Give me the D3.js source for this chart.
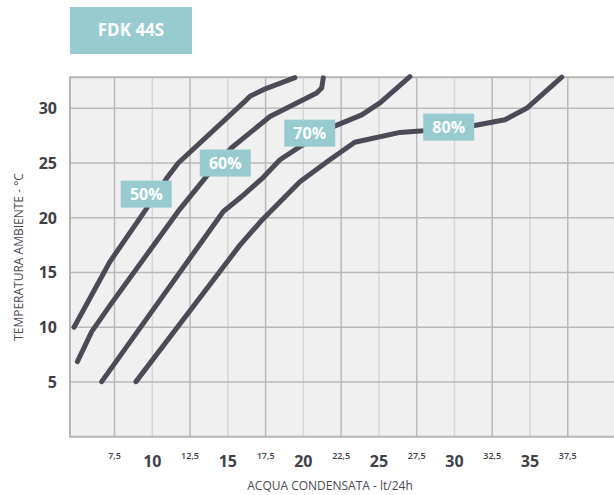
<!DOCTYPE html>
<html>
<head>
<meta charset="utf-8">
<script src="https://cdn.jsdelivr.net/npm/d3@7"></script>
<style>
  body { margin: 0; background: #fff; }
  text { font-family: "Open Sans", sans-serif; }
</style>
</head>
<body>
<div id="chart"></div>
<script>
// FDK 44S - water condensed vs ambient temperature, by relative humidity

const width = 614;
const height = 495;

// curves: x = lt/24h, y = °C
const curve50 = [[4.82,10.0],[7.2,16.0],[9.4,20.4],[10.95,23.6],[11.72,25.0],[16.25,30.8],[16.47,31.1],[17.35,31.7],[19.44,32.8]];
const curve60 = [[5.04,6.86],[5.99,9.6],[7.2,12.0],[11.72,20.6],[13.6,23.8],[15.25,26.4],[17.79,29.25],[20.88,31.4],[21.21,31.85],[21.32,32.8]];
const curve70 = [[6.65,5.03],[14.7,20.57],[15.8,21.8],[17.35,23.7],[18.45,25.3],[19.77,26.5],[22.1,28.4],[23.86,29.4],[25.07,30.5],[27.05,32.9]];
const curve80 = [[8.92,5.03],[15.8,17.5],[17.2,19.7],[19.77,23.3],[21.75,25.3],[23.4,26.9],[26.4,27.8],[27.94,27.95],[31.24,28.4],[33.34,28.95],[34.78,30.0],[37.1,32.85]];

const curves = [curve50, curve60, curve70, curve80];
const curveLabels = ["50%", "60%", "70%", "80%"];
const labelAt = [[9.6,22.16],[14.83,25.0],[20.42,27.73],[29.62,28.28]];

const yTicks = [5, 10, 15, 20, 25, 30];
const xMajor = [10, 15, 20, 25, 30, 35];
const xMinor = [7.5, 12.5, 17.5, 22.5, 27.5, 32.5, 37.5];
const xMinorLabels = ["7,5", "12,5", "17,5", "22,5", "27,5", "32,5", "37,5"];

const plot = {left: 70, right: 614, top: 77.3, bottom: 436.7};

const x = d3.scaleLinear().domain([10, 35]).range([152.3, 530]);
const y = d3.scaleLinear().domain([0, 30]).range([plot.bottom, 108.3]);

const svg = d3.select("#chart")
  .append("svg")
  .attr("width", width)
  .attr("height", height);

// plot background
svg.append("rect")
  .attr("x", plot.left)
  .attr("y", plot.top)
  .attr("width", plot.right - plot.left)
  .attr("height", plot.bottom - plot.top)
  .attr("fill", "#f0f0f0");

// light vertical grid (at the big labels)
svg.append("g").selectAll("line")
  .data(xMajor)
  .join("line")
    .attr("x1", d => x(d)).attr("x2", d => x(d))
    .attr("y1", plot.top).attr("y2", plot.bottom)
    .attr("stroke", "#d6d6d6")
    .attr("stroke-width", 1.5);

// darker vertical grid (at the x,5 labels)
svg.append("g").selectAll("line")
  .data(xMinor)
  .join("line")
    .attr("x1", d => x(d)).attr("x2", d => x(d))
    .attr("y1", plot.top).attr("y2", plot.bottom)
    .attr("stroke", "#b9b9b9")
    .attr("stroke-width", 1.5);

// horizontal grid
svg.append("g").selectAll("line")
  .data(yTicks)
  .join("line")
    .attr("x1", plot.left).attr("x2", plot.right)
    .attr("y1", d => y(d)).attr("y2", d => y(d))
    .attr("stroke", "#b9b9b9")
    .attr("stroke-width", 1.5);

// frame: top, left, bottom
svg.append("path")
  .attr("d", `M${plot.right},${plot.top}H${plot.left}V${plot.bottom}H${plot.right}`)
  .attr("fill", "none")
  .attr("stroke", "#b5b5b5")
  .attr("stroke-width", 2);

// y tick labels
svg.append("g").selectAll("text")
  .data(yTicks)
  .join("text")
    .attr("x", 57)
    .attr("y", d => y(d))
    .attr("dy", "0.36em")
    .attr("text-anchor", "end")
    .attr("font-size", "16px")
    .attr("font-weight", 700)
    .attr("fill", "#3f3f4a")
    .text(d => d);

// x tick labels, big
svg.append("g").selectAll("text")
  .data(xMajor)
  .join("text")
    .attr("x", d => x(d))
    .attr("y", 467)
    .attr("text-anchor", "middle")
    .attr("font-size", "16px")
    .attr("font-weight", 700)
    .attr("fill", "#3f3f4a")
    .text(d => d);

// x tick labels, small
svg.append("g").selectAll("text")
  .data(xMinor)
  .join("text")
    .attr("x", d => x(d))
    .attr("y", 459)
    .attr("text-anchor", "middle")
    .attr("font-size", "9px")
    .attr("font-weight", 600)
    .attr("fill", "#3f3f4a")
    .text((d, i) => xMinorLabels[i]);

// axis titles
svg.append("text")
  .attr("x", 330)
  .attr("y", 490)
  .attr("text-anchor", "middle")
  .attr("font-size", "12px")
  .attr("fill", "#4a4a52")
  .text("ACQUA CONDENSATA - lt/24h");

svg.append("text")
  .attr("transform", "translate(23,257) rotate(-90)")
  .attr("text-anchor", "middle")
  .attr("font-size", "12px")
  .attr("fill", "#4a4a52")
  .text("TEMPERATURA AMBIENTE - °C");

// curves
const line = d3.line()
  .x(d => x(d[0]))
  .y(d => y(d[1]));

svg.append("g").selectAll("path")
  .data(curves)
  .join("path")
    .attr("d", line)
    .attr("fill", "none")
    .attr("stroke", "#4b4b57")
    .attr("stroke-width", 5)
    .attr("stroke-linecap", "round")
    .attr("stroke-linejoin", "round");

// humidity labels
const boxW = 51, boxH = 27;
const tags = svg.append("g").selectAll("g")
  .data(labelAt)
  .join("g")
    .attr("transform", d => `translate(${x(d[0])},${y(d[1])})`);

tags.append("rect")
  .attr("x", -boxW / 2)
  .attr("y", -boxH / 2)
  .attr("width", boxW)
  .attr("height", boxH)
  .attr("fill", "#97cbd0");

tags.append("text")
  .attr("text-anchor", "middle")
  .attr("dy", "0.36em")
  .attr("font-size", "16px")
  .attr("font-weight", 700)
  .attr("fill", "#fff")
  .text((d, i) => curveLabels[i]);

// title box
svg.append("rect")
  .attr("x", 70)
  .attr("y", 7)
  .attr("width", 122)
  .attr("height", 47)
  .attr("fill", "#97cbd0");

svg.append("text")
  .attr("x", 131)
  .attr("y", 30)
  .attr("dy", "0.36em")
  .attr("text-anchor", "middle")
  .attr("font-size", "17px")
  .attr("font-weight", 700)
  .attr("fill", "#fff")
  .text("FDK 44S");
</script>
</body>
</html>
